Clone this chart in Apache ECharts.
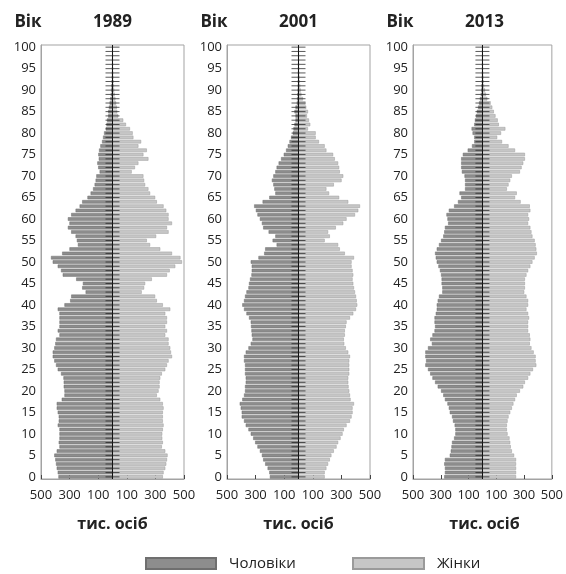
<!DOCTYPE html>
<html>
<head>
<meta charset="utf-8">
<script src="https://cdn.jsdelivr.net/npm/echarts@6/dist/echarts.min.js"></script>
<style>
  html, body { margin: 0; padding: 0; background: #fff; }
  #chart { width: 566px; height: 574px; }
</style>
</head>
<body>
<div id="chart"></div>
<script>
// вікові групи 0..100
const ages = []
for (let a = 0; a <= 100; a++) ages.push(String(a))

const years = ['1989', '2001', '2013']
const xTicks = [-500, -300, -100, 100, 300, 500]

// тис. осіб, від віку 0 до 100
const male1989 = [378,383,390,395,400,407,390,371,376,371,371,371,383,376,376,383,390,390,355,336,336,341,341,343,360,383,395,407,418,418,407,400,395,371,383,371,371,371,371,383,336,296,289,188,212,207,254,348,360,383,418,430,352,301,242,249,258,289,312,301,312,289,258,230,212,175,153,136,125,118,113,90,100,106,96,99,94,85,73,66,59,47,42,38,30,30,25,20,15,12,10,8,6,5,4,3,2,2,1,1,1]
const female1989 = [352,357,369,376,381,385,369,345,352,348,348,352,357,352,352,352,357,352,334,310,322,329,329,334,345,369,381,392,416,409,404,392,392,369,381,369,381,381,369,404,352,310,298,204,221,228,275,381,400,439,486,475,416,334,263,240,305,392,381,416,392,392,376,357,310,298,263,251,228,221,216,134,157,181,251,216,240,181,200,146,141,122,94,75,40,33,30,25,20,15,12,10,8,6,5,4,3,2,2,1,1]
const male2001 = [200,204,216,233,247,256,270,287,303,317,334,350,369,381,397,397,404,411,393,381,374,374,369,369,374,374,374,381,381,369,350,334,322,327,329,332,334,346,364,381,393,381,374,364,350,346,339,329,327,327,334,280,240,233,153,181,162,209,247,256,270,287,298,310,251,204,162,169,176,186,176,162,153,139,122,103,87,75,63,52,40,35,28,21,21,28,21,12,10,8,6,5,4,3,3,2,2,1,1,1,1]
const female2001 = [183,183,195,207,219,230,247,266,277,294,308,317,336,360,371,378,378,388,364,360,355,350,348,348,355,355,355,355,360,348,331,320,317,324,324,331,336,360,383,402,411,407,402,395,388,383,378,383,378,371,371,388,324,289,277,183,219,207,261,313,336,395,418,430,348,284,214,195,247,301,313,289,284,277,254,242,195,183,143,120,120,66,82,73,59,66,54,49,31,20,15,12,9,7,5,4,3,2,2,1,1]
const male2013 = [275,270,270,275,270,235,228,223,219,204,195,195,200,212,219,235,242,252,270,282,298,322,341,360,376,392,411,406,411,411,392,364,376,360,345,341,345,345,336,329,329,322,313,289,289,294,294,298,306,317,329,336,341,329,313,298,282,275,270,247,252,259,242,204,176,153,165,125,125,125,129,148,153,153,153,141,106,75,59,59,71,78,59,54,47,40,31,24,18,12,9,7,5,4,3,2,2,1,1,1,1]
const female2013 = [242,242,242,242,242,228,212,204,200,195,181,176,176,181,188,200,212,223,235,247,270,294,306,329,345,364,388,383,383,369,353,341,345,341,329,329,329,336,329,317,329,329,317,301,306,306,306,317,329,345,360,376,392,388,383,376,360,353,345,329,336,329,345,341,275,235,247,176,188,200,212,270,282,294,306,306,235,188,141,106,134,165,118,110,94,82,71,59,35,25,18,12,9,7,5,4,3,2,2,1,1]

const maleData = [male1989, male2001, male2013]
const femaleData = [female1989, female2001, female2013]

const FONT = '"Open Sans", "Noto Sans", sans-serif'
const gridLefts = [41, 227, 413]
const gridWidth = 143

const myChart = echarts.init(document.getElementById('chart'), null, { renderer: 'canvas' })

const grids = []
const xAxes = []
const yAxes = []
const series = []
const graphics = []

years.forEach((year, i) => {
  grids.push({
    left: gridLefts[i],
    width: gridWidth,
    top: 45,
    height: 434,
    show: true,
    borderColor: '#a3a3a3',
    borderWidth: 1,
  })
  xAxes.push({
    type: 'value',
    gridIndex: i,
    min: -500,
    max: 500,
    interval: 200,
    splitLine: { show: false },
    axisLine: { show: true, onZero: false, lineStyle: { color: '#a3a3a3' } },
    axisTick: { show: true, inside: true, length: 4, lineStyle: { color: '#444' } },
    axisLabel: {
      color: '#222',
      fontSize: 13,
      fontFamily: FONT,
      margin: 10,
      formatter: (v) => (xTicks.indexOf(v) >= 0 ? String(Math.abs(v)) : ''),
    },
  })
  yAxes.push({
    type: 'category',
    gridIndex: i,
    data: ages,
    axisLine: { show: true, onZero: false, lineStyle: { color: '#a3a3a3' } },
    axisTick: { show: false },
    axisLabel: {
      color: '#222',
      fontSize: 13,
      fontFamily: FONT,
      margin: 5,
      interval: (idx) => idx % 5 === 0,
    },
  })
  series.push({
    name: 'Чоловіки',
    type: 'bar',
    xAxisIndex: i,
    yAxisIndex: i,
    stack: 'p' + i,
    barCategoryGap: '18%',
    itemStyle: { color: '#8d8d8d', borderColor: '#6f6f6f', borderWidth: 0.5 },
    data: maleData[i].map((v) => -v),
  })
  series.push({
    name: 'Жінки',
    type: 'bar',
    xAxisIndex: i,
    yAxisIndex: i,
    stack: 'p' + i,
    barCategoryGap: '18%',
    itemStyle: { color: '#c6c6c6', borderColor: '#9a9a9a', borderWidth: 0.5 },
    data: femaleData[i],
    markLine: {
      silent: true,
      symbol: 'none',
      label: { show: false },
      lineStyle: { color: '#111', width: 1, type: 'solid' },
      data: [{ xAxis: 0 }],
    },
  })
  // риски на центральній осі
  series.push({
    type: 'scatter',
    xAxisIndex: i,
    yAxisIndex: i,
    silent: true,
    symbol: 'rect',
    symbolSize: [14, 1],
    itemStyle: { color: '#222', opacity: 0.75 },
    z: 5,
    data: ages.map((a) => [0, a]),
  })
  const cx = gridLefts[i] + gridWidth / 2
  graphics.push({
    type: 'text',
    style: { text: 'Вік', x: gridLefts[i] - 13, y: 22, textAlign: 'center', textVerticalAlign: 'middle', font: 'bold 17px ' + FONT, fill: '#222' },
  })
  graphics.push({
    type: 'text',
    style: { text: year, x: cx, y: 22, textAlign: 'center', textVerticalAlign: 'middle', font: 'bold 17px ' + FONT, fill: '#222' },
  })
  graphics.push({
    type: 'text',
    style: { text: 'тис. осіб', x: cx, y: 524, textAlign: 'center', textVerticalAlign: 'middle', font: 'bold 16px ' + FONT, fill: '#222' },
  })
})

const option = {
  animation: false,
  backgroundColor: '#fff',
  grid: grids,
  xAxis: xAxes,
  yAxis: yAxes,
  legend: [
    {
      data: ['Чоловіки'],
      icon: 'rect',
      left: 145,
      top: 556,
      padding: 0,
      itemWidth: 70,
      itemHeight: 11,
      textStyle: { color: '#222', fontSize: 15, fontFamily: FONT, padding: [0, 0, 0, 8] },
    },
    {
      data: ['Жінки'],
      icon: 'rect',
      left: 352,
      top: 556,
      padding: 0,
      itemWidth: 71,
      itemHeight: 11,
      textStyle: { color: '#222', fontSize: 15, fontFamily: FONT, padding: [0, 0, 0, 8] },
    },
  ],
  graphic: graphics,
  series: series,
}

myChart.setOption(option)
</script>
</body>
</html>
